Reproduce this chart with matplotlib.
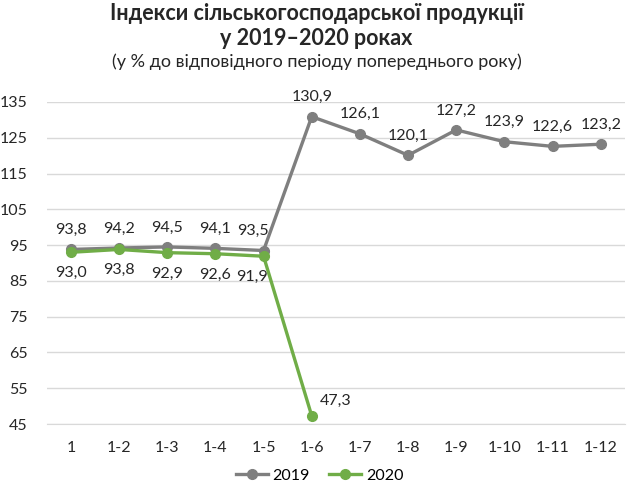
import matplotlib
matplotlib.use("Agg")
import matplotlib.pyplot as plt
from matplotlib.lines import Line2D

plt.rcParams['font.family'] = ['Lato', 'DejaVu Sans']

categories = ["1", "1-2", "1-3", "1-4", "1-5", "1-6", "1-7", "1-8", "1-9", "1-10", "1-11", "1-12"]
values_2019 = [93.8, 94.2, 94.5, 94.1, 93.5, 130.9, 126.1, 120.1, 127.2, 123.9, 122.6, 123.2]
values_2020 = [93.0, 93.8, 92.9, 92.6, 91.9, 47.3]
yticks = [45, 55, 65, 75, 85, 95, 105, 115, 125, 135]

c2019 = "#7f7f7f"
c2020 = "#70ad47"

fig = plt.figure(figsize=(6.33, 4.88), dpi=100)
ax = fig.add_axes([0.074, 0.131, 0.913, 0.66])

x19 = list(range(len(values_2019)))
x20 = list(range(len(values_2020)))
ax.plot(x19, values_2019, color=c2019, lw=2.4, marker='o', ms=7, mfc=c2019, mec=c2019, zorder=3)
ax.plot(x20, values_2020, color=c2020, lw=2.4, marker='o', ms=7, mfc=c2020, mec=c2020, zorder=4)

def fmt(v):
    return f"{v:.1f}".replace(".", ",")

fs = 11.5
for i, v in enumerate(values_2019):
    dx = -8 if i == 4 else 0
    ax.annotate(fmt(v), (i, v), xytext=(dx, 9), textcoords='offset points',
                ha='center', va='bottom', fontsize=fs, color='#262626')
for i, v in enumerate(values_2020):
    if i == 5:
        ax.annotate(fmt(v), (i, v), xytext=(6, 6), textcoords='offset points',
                    ha='left', va='bottom', fontsize=fs, color='#262626')
    else:
        dx = -8 if i == 4 else 0
        ax.annotate(fmt(v), (i, v), xytext=(dx, -10), textcoords='offset points',
                    ha='center', va='top', fontsize=fs, color='#262626')

ax.set_xlim(-0.5, len(categories) - 0.5)
ax.set_ylim(45, 135)
ax.set_yticks(yticks)
ax.set_yticklabels([str(t) for t in yticks], fontsize=fs, color='#262626')
ax.set_xticks(range(len(categories)))
ax.set_xticklabels(categories, fontsize=fs, color='#262626')
ax.tick_params(length=0, pad=12)
ax.tick_params(axis='y', pad=14)
ax.grid(axis='y', color='#d9d9d9', lw=1)
ax.set_axisbelow(True)
for s in ['top', 'right', 'left']:
    ax.spines[s].set_visible(False)
ax.spines['bottom'].set_color('#d9d9d9')

fig.text(0.5, 0.972, "Індекси сільськогосподарської продукції", ha='center', va='center',
         fontsize=15.5, fontweight='bold', color='#262626')
fig.text(0.5, 0.922, "у 2019–2020 роках", ha='center', va='center',
         fontsize=15.5, fontweight='bold', color='#262626')
fig.text(0.5, 0.873, "(у % до відповідного періоду попереднього року)", ha='center', va='center',
         fontsize=13, color='#262626')

handles = [Line2D([0], [0], color=c2019, lw=2.4, marker='o', ms=7),
           Line2D([0], [0], color=c2020, lw=2.4, marker='o', ms=7)]
fig.legend(handles, ["2019", "2020"], loc='center', bbox_to_anchor=(0.505, 0.025), ncol=2,
           frameon=False, fontsize=fs, handlelength=2.0, columnspacing=1.2, handletextpad=0.3)

fig.savefig("out.png", dpi=100)
